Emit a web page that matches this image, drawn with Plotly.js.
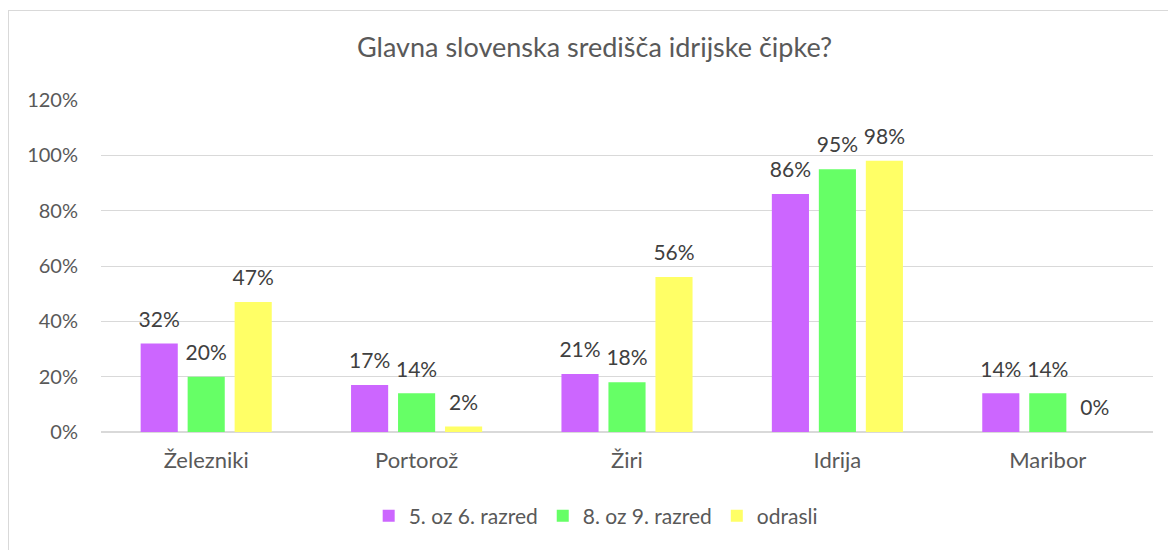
<!DOCTYPE html>
<html>
<head>
<meta charset="utf-8">
<script src="https://cdn.plot.ly/plotly-3.0.1.min.js"></script>
<style>
html,body{margin:0;padding:0;background:#fff;}
#frame{position:absolute;left:8px;top:10px;width:1200px;height:600px;border:1px solid #d9d9d9;box-sizing:border-box;}
#chart{position:absolute;left:0;top:0;width:1168px;height:550px;}
</style>
</head>
<body>
<div id="frame"></div>
<div id="chart"></div>
<script>
const categories = ["Železniki", "Portorož", "Žiri", "Idrija", "Maribor"];
const seriesNames = ["5. oz 6. razred", "8. oz 9. razred", "odrasli"];
const grade56 = [0.32, 0.17, 0.21, 0.86, 0.14];
const grade89 = [0.20, 0.14, 0.18, 0.95, 0.14];
const adults = [0.47, 0.02, 0.56, 0.98, 0.00];
const colors = ["#CC66FF", "#66FF66", "#FFFF66"];
const yTicks = [0, 0.2, 0.4, 0.6, 0.8, 1.0, 1.2];
const yTickLabels = ["0%", "20%", "40%", "60%", "80%", "100%", "120%"];

const FONT = "Lato, 'Open Sans', sans-serif";
const allSeries = [grade56, grade89, adults];
const traces = allSeries.map((vals, i) => ({
  type: "bar",
  name: seriesNames[i],
  x: categories,
  y: vals,
  marker: {color: colors[i]},
  // small-font blank second line lifts the label a little above the bar
  text: vals.map(v => "<span style='font-size:21px'>" + Math.round(v * 100) + "%</span><br>&nbsp;"),
  textposition: "outside",
  constraintext: "none",
  cliponaxis: false,
  textfont: {family: FONT, size: 9, color: "#404040"},
  hoverinfo: "none"
}));

const layout = {
  width: 1168,
  height: 550,
  margin: {l: 101, r: 15, t: 100, b: 118},
  paper_bgcolor: "rgba(0,0,0,0)",
  plot_bgcolor: "rgba(0,0,0,0)",
  font: {family: FONT, color: "#595959"},
  title: {
    text: "Glavna slovenska središča idrijske čipke?",
    font: {family: FONT, size: 27, color: "#595959"},
    xref: "container", x: 0.509, xanchor: "center",
    yref: "container", y: 1 - 48 / 550, yanchor: "middle"
  },
  barmode: "group",
  bargap: 0.33,
  bargroupgap: 0.21,
  showlegend: true,
  legend: {
    orientation: "h",
    xref: "container", x: 0.51, xanchor: "center",
    yref: "container", y: 1 - 516 / 550, yanchor: "middle",
    font: {family: FONT, size: 21, color: "#595959"},
    itemclick: false, itemdoubleclick: false,
    tracegroupgap: 0, itemwidth: 20
  },
  xaxis: {
    type: "category",
    showgrid: false,
    showline: false,
    zeroline: false,
    ticks: "",
    ticklabelstandoff: 13,
    tickfont: {family: FONT, size: 22, color: "#595959"},
    fixedrange: true
  },
  yaxis: {
    range: [0, 1.2],
    tickvals: yTicks,
    ticktext: yTickLabels,
    showgrid: true,
    gridcolor: "#d9d9d9",
    gridwidth: 1,
    zeroline: true,
    zerolinecolor: "#d9d9d9",
    zerolinewidth: 2,
    showline: false,
    ticks: "",
    ticklabelstandoff: 22,
    tickfont: {family: FONT, size: 20, color: "#595959"},
    fixedrange: true
  }
};

Plotly.newPlot("chart", traces, layout, {displayModeBar: false, staticPlot: true});
</script>
</body>
</html>
